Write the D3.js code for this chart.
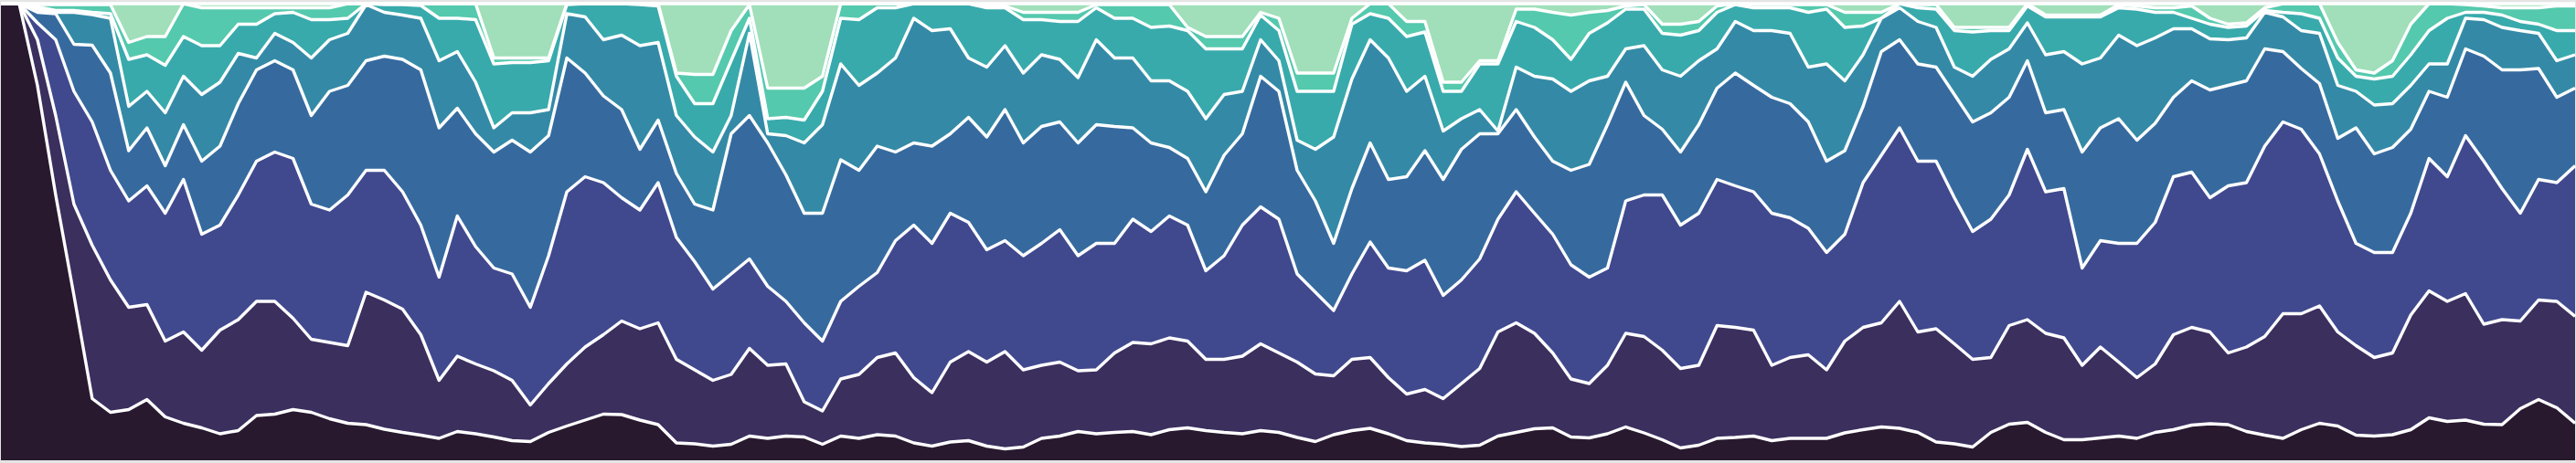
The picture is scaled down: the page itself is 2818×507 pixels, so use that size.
<!DOCTYPE html>
<html>
<head>
<meta charset="utf-8">
<title>stacked shares</title>
<script src="https://cdn.jsdelivr.net/npm/d3@7"></script>
<style>
  html, body { margin: 0; padding: 0; background: #e4e4e4; }
  svg { display: block; }
</style>
</head>
<body>
<div id="chart"></div>
<script>
// cumulative share (%) reached at the top of each layer, bottom layer first.
// one value every ~20px of the original picture, 142 steps.
const cum1 = [100,100,82.1,58.1,36.1,13.5,10.5,11.1,13.3,9.5,8.1,7.1,5.8,6.5,9.8,10.1,11.1,10.5,9.1,8.1,7.8,6.8,6.1,5.5,
  4.8,6.3,5.8,5.1,4.3,4.1,6.1,7.5,8.8,10.1,10.0,8.8,7.8,3.8,3.6,3.1,3.5,5.3,4.8,5.3,5.1,3.5,5.3,
  4.8,5.6,5.3,3.8,3.1,4.0,4.3,3.1,2.5,2.9,4.8,5.3,6.3,5.8,6.1,6.3,5.6,6.7,7.1,6.5,6.1,5.8,6.5,6.1,
  5.0,4.1,5.6,6.5,7.0,5.8,4.3,3.8,3.5,3.0,3.3,5.3,6.1,6.9,7.1,5.1,4.9,5.8,7.3,6.0,4.5,2.7,3.3,
  4.8,5.0,5.3,4.3,4.8,4.8,4.8,6.0,6.7,7.3,7.0,6.1,4.0,3.6,2.9,6.1,7.9,8.3,6.1,4.5,4.5,4.9,5.3,4.8,
  6.1,6.7,7.7,8.0,7.8,6.3,5.5,4.8,6.7,8.1,7.5,5.5,5.3,5.6,6.7,9.3,8.5,8.8,7.9,7.8,11.3,13.3,11.5,8.1];

const cum2 = [100,100,92.1,75.5,56.1,47.1,39.5,33.5,34.1,26.1,28.1,24.1,28.5,30.8,34.8,34.8,31.1,26.5,25.8,25.1,36.8,35.1,33.1,27.5,
  17.5,22.8,21.1,19.6,17.5,12.1,16.8,21.1,24.8,27.5,30.5,28.8,30.1,22.1,19.8,17.5,18.8,24.5,20.8,21.1,12.8,10.8,17.8,
  18.8,22.5,23.5,18.1,14.8,21.5,23.8,21.5,23.8,19.8,20.8,21.5,19.6,19.8,23.5,25.8,25.5,26.8,26.1,22.1,22.1,22.8,25.5,23.5,
  21.5,18.9,18.5,22.1,22.5,18.1,14.5,15.5,13.5,16.8,20.1,28.1,30.1,27.8,23.5,17.8,16.8,20.8,27.8,27.1,24.1,20.1,20.8,
  29.5,29.1,28.5,20.8,22.5,23.1,19.8,26.1,29.1,30.1,34.8,28.1,28.8,25.5,22.1,22.5,29.5,30.8,27.8,26.8,20.8,24.8,21.5,18.1,
  21.1,27.5,29.1,28.1,23.5,24.8,27.1,32.1,32.1,33.8,28.1,25.1,22.5,23.5,31.8,37.1,34.8,36.5,29.8,30.8,30.5,35.1,34.8,31.5];

const cum3 = [100,100,95.8,92.1,80.8,74.1,63.5,56.8,60.1,54.1,61.5,49.5,51.5,58.1,65.5,67.5,66.1,56.1,54.8,58.1,63.5,63.5,58.8,51.5,
  40.1,53.5,46.8,42.1,40.8,33.5,44.8,58.8,62.1,60.8,57.5,54.8,60.8,48.8,43.5,37.5,40.8,44.1,38.1,34.8,30.1,26.1,34.8,
  38.1,41.1,48.1,51.5,47.5,54.1,52.1,46.1,48.1,44.8,47.5,50.5,44.8,47.5,47.5,52.8,50.1,53.5,51.5,41.5,44.8,51.5,55.5,52.8,
  40.8,36.8,32.8,40.8,47.8,42.1,41.5,43.8,36.1,39.5,44.1,52.8,58.8,54.1,49.5,42.8,40.1,42.1,56.8,58.1,58.1,51.5,54.1,
  61.5,60.1,58.8,54.1,53.1,50.8,45.5,49.5,60.8,66.8,72.8,65.5,65.5,57.5,50.1,52.8,58.1,68.1,58.8,59.5,42.1,48.1,47.5,47.5,
  52.1,62.1,63.1,57.5,60.1,60.8,68.8,74.1,72.5,67.1,56.8,47.5,45.5,45.5,54.1,66.1,62.1,71.1,65.5,59.5,54.1,61.5,60.8,64.5];

const cum4 = [100,100,98.1,97.8,91.1,90.9,84.8,67.8,72.8,64.5,73.5,65.5,68.8,78.1,85.5,87.5,85.5,75.5,80.8,82.1,87.5,88.5,87.8,85.5,
  72.8,77.1,71.5,67.5,70.1,67.5,71.1,88.1,84.8,79.8,76.8,68.1,74.5,62.8,56.1,54.8,71.5,75.5,69.5,62.5,54.1,54.1,65.8,
  63.5,68.8,67.5,69.5,68.8,71.5,75.1,70.8,76.8,69.5,73.1,74.1,69.5,73.5,73.1,72.8,69.5,68.5,66.1,58.8,66.8,71.5,84.1,80.8,
  63.5,56.8,47.5,59.5,69.5,61.5,62.1,67.8,61.5,68.1,71.5,71.5,76.8,70.8,65.5,63.5,64.8,73.5,82.8,75.5,72.5,67.5,73.5,
  81.5,84.8,82.1,79.5,78.1,74.1,65.5,67.8,77.5,89.5,92.1,86.8,86.1,80.1,74.1,76.1,79.5,87.5,76.1,76.8,67.5,72.8,74.8,70.1,
  73.8,79.5,83.1,81.1,82.1,83.1,90.1,89.5,85.8,82.5,70.5,72.8,67.1,68.5,72.5,80.8,79.5,90.1,88.5,85.5,85.5,85.8,79.5,81.5];

const cum5 = [100,100,98.8,98.1,98.1,97.6,96.8,77.5,80.8,76.1,84.1,80.1,82.8,89.1,88.1,93.5,91.5,88.1,92.1,93.5,99.8,98.1,97.5,96.8,
  87.5,89.5,82.8,72.8,76.1,76.1,76.8,97.8,97.1,92.1,93.1,90.8,91.5,75.5,70.8,67.5,75.5,93.5,71.5,71.1,69.5,73.5,86.8,
  82.1,84.8,88.1,96.8,94.1,94.5,88.1,86.1,90.8,84.8,88.8,87.8,83.8,92.1,88.1,88.1,83.1,83.1,80.8,74.8,80.1,80.8,92.1,87.5,
  70.1,68.1,70.8,83.5,92.1,88.1,80.8,84.1,72.1,74.8,76.8,72.1,86.1,84.1,83.5,80.8,83.1,84.1,90.1,90.8,85.5,84.1,87.5,
  90.1,96.1,94.1,94.1,93.5,86.1,86.8,83.1,88.8,96.8,99.1,96.1,94.8,86.1,84.1,87.8,90.1,95.8,88.8,89.5,86.8,88.1,93.1,90.8,
  92.5,94.5,94.5,92.3,92.1,92.5,98.1,97.1,94.1,93.5,82.1,80.8,77.8,78.1,82.1,86.8,86.8,96.8,96.5,94.8,94.1,93.5,87.5,88.8];

const cum6 = [100,100,99.3,98.5,98.5,98.1,97.8,87.8,88.8,86.5,92.8,90.8,90.8,95.5,95.5,97.8,98.1,96.5,96.5,96.8,100,99.8,99.8,99.6,
  96.8,96.8,96.5,86.8,87.1,87.1,87.5,99.8,100,100,100,99.8,99.5,84.1,78.1,78.1,87.5,96.8,74.8,75.1,74.5,80.8,96.8,
  96.5,99.1,99.1,100,100,100,100,99.1,99.1,96.5,96.5,96.1,96.1,99.1,96.8,96.8,94.8,95.1,94.1,90.1,90.1,90.1,97.5,94.1,
  80.8,80.8,80.8,95.5,97.8,96.8,92.8,93.8,80.8,80.8,86.8,86.8,96.1,94.8,92.1,87.8,93.5,95.8,98.8,98.8,93.5,93.1,94.1,
  98.1,99.8,99.1,99.1,99.1,98.1,98.8,94.8,95.1,96.8,100,99.1,98.8,94.1,93.8,94.1,94.1,99.5,97.1,97.1,97.1,97.1,99.1,98.8,
  98.1,98.1,96.8,95.5,94.8,95.1,98.5,98.1,97.8,96.8,88.1,84.1,83.5,84.1,88.8,94.1,96.8,98.1,98.1,97.5,96.1,95.5,94.1,94.1];

const cum7 = [100,100,99.8,99.8,99.8,99.8,99.8,91.5,92.8,92.8,100,99.1,99.1,99.1,99.1,99.1,99.1,99.1,99.1,100,100,100,100,100,
  100,100,100,88.1,88.1,88.1,88.1,100,100,100,100,100,100,84.8,84.5,84.5,94.1,99.8,81.5,81.5,81.5,84.1,100,
  100,100,100,100,100,100,100,99.5,99.5,98.1,98.1,98.1,98.1,99.8,99.8,99.8,99.8,99.8,94.8,92.8,92.8,92.8,98.1,96.8,
  84.8,84.8,84.8,96.8,100,100,96.1,96.1,82.8,82.8,87.5,87.5,98.8,98.8,98.1,97.5,98.1,98.5,99.5,99.8,95.5,95.5,96.1,
  99.5,100,99.8,99.8,99.8,99.8,99.8,98.1,98.1,98.1,100,99.8,99.8,94.8,94.8,94.8,94.8,100,97.5,97.5,97.5,97.5,99.8,99.5,
  99.1,99.1,99.5,96.8,95.5,95.8,99.1,100,100,100,91.5,85.5,84.8,87.5,95.5,100,100,99.8,99.5,99.1,99.1,99.1,99.5,99.5];

// mako, dark to light, bottom layer first
const colors = ["#28192f", "#3b2f5e", "#40498e", "#366a9f", "#348aa6", "#38aaac", "#54c9ad", "#a0dfb9"];

const width = 2818, height = 507;
const margin = {top: 4, right: 1, bottom: 3, left: 1};

const cums = [cum1, cum2, cum3, cum4, cum5, cum6, cum7];
const keys = colors.map((c, i) => "layer" + i);
const n = cum1.length;

// turn the cumulative shares back into the size of each layer
const rows = d3.range(n).map(i => {
  const row = {t: i};
  let prev = 0;
  cums.forEach((c, k) => {
    const top = Math.max(prev, c[i]);
    row[keys[k]] = top - prev;
    prev = top;
  });
  row[keys[7]] = Math.max(0, 100 - prev);
  return row;
});

const series = d3.stack()
  .keys(keys)
  .offset(d3.stackOffsetExpand)(rows);

const x = d3.scaleLinear()
  .domain([0, n - 1])
  .range([margin.left, width - margin.right]);

const y = d3.scaleLinear()
  .domain([0, 1])
  .range([height - margin.bottom, margin.top]);

const area = d3.area()
  .x(d => x(d.data.t))
  .y0(d => y(d[0]))
  .y1(d => y(d[1]));

const edge = d3.line()
  .x(d => x(d.data.t))
  .y(d => y(d[1]));

const svg = d3.select("#chart").append("svg")
  .attr("width", width)
  .attr("height", height);

svg.append("g")
  .selectAll("path")
  .data(series)
  .join("path")
    .attr("fill", (d, i) => colors[i])
    .attr("d", area);

// white edge on top of every layer
svg.append("g")
  .selectAll("path")
  .data(series)
  .join("path")
    .attr("fill", "none")
    .attr("stroke", "#fff")
    .attr("stroke-width", 3.4)
    .attr("stroke-linejoin", "round")
    .attr("d", edge);
</script>
</body>
</html>
